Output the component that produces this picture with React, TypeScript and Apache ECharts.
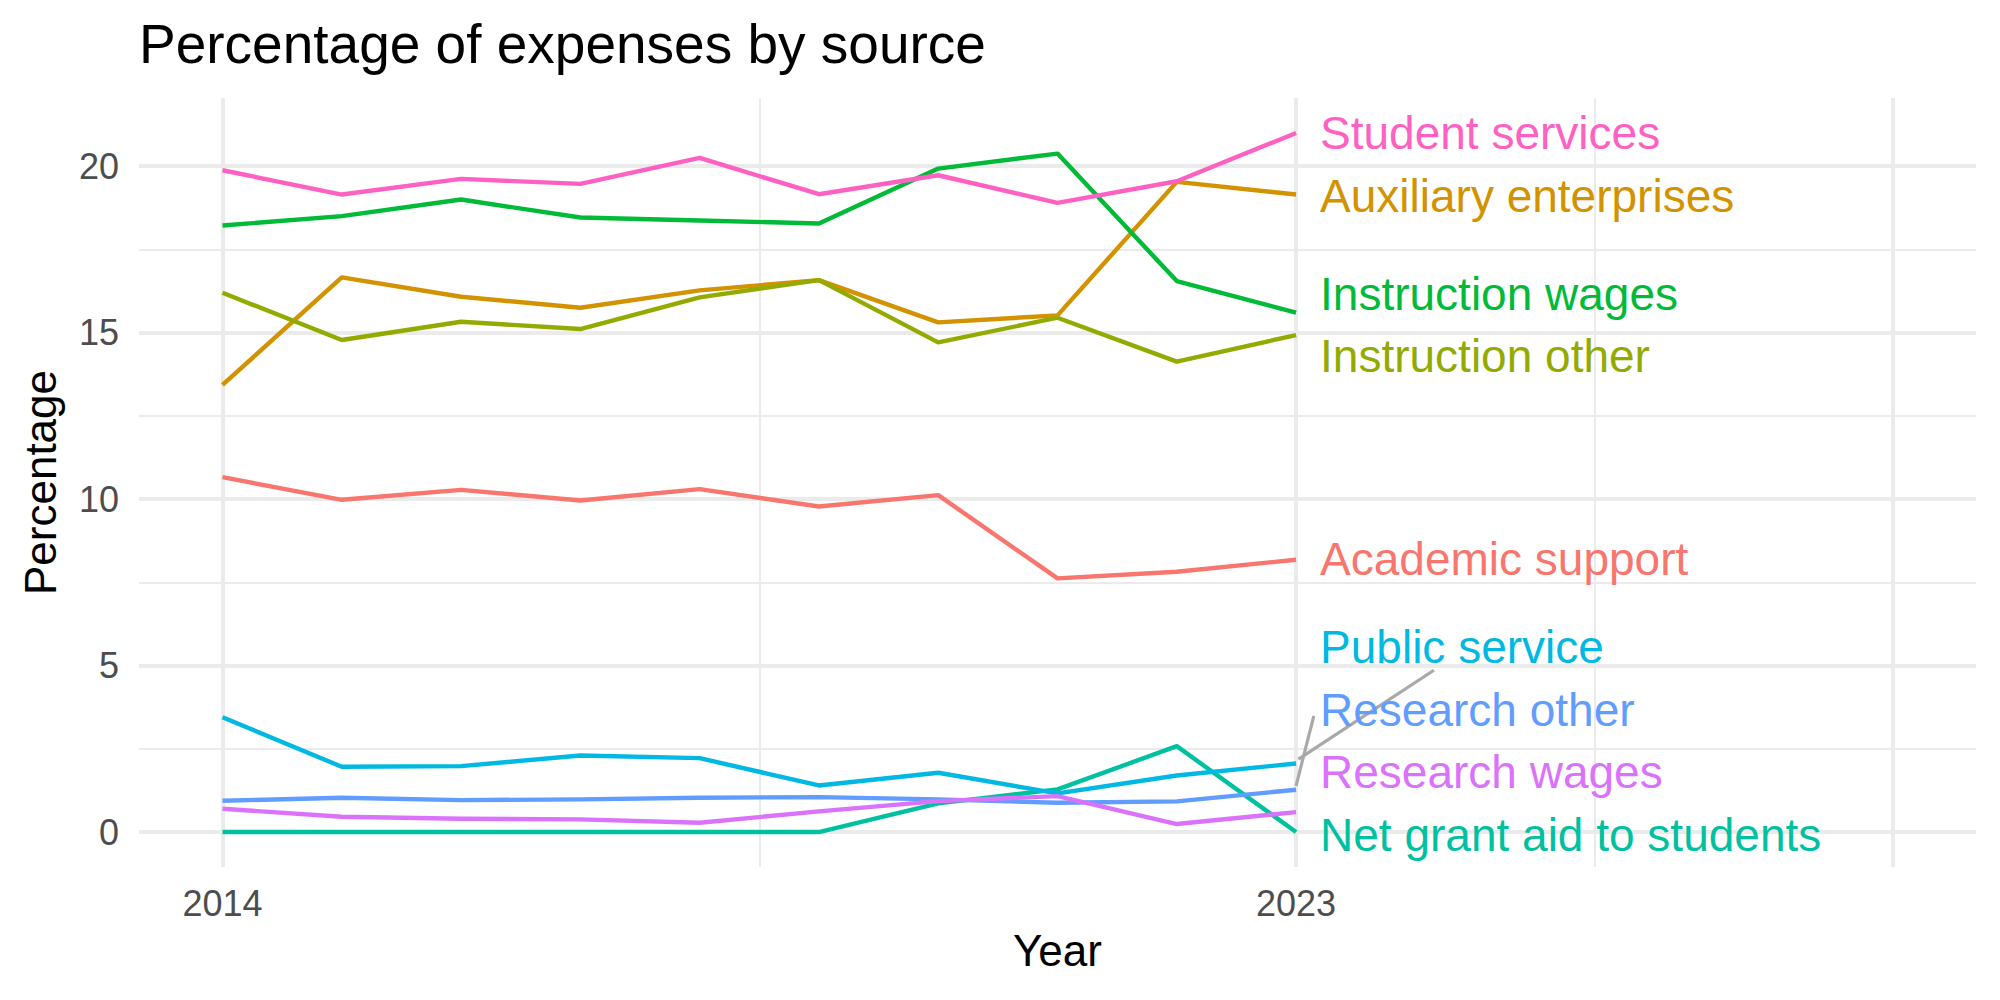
import React, { useEffect, useRef } from "react";
import * as echarts from "echarts";

const years = [2014, 2015, 2016, 2017, 2018, 2019, 2020, 2021, 2022, 2023];

const academicSupport = [10.66, 9.98, 10.28, 9.96, 10.3, 9.78, 10.12, 7.62, 7.82, 8.18];
const auxiliaryEnterprises = [13.43, 16.66, 16.08, 15.75, 16.27, 16.58, 15.31, 15.52, 19.53, 19.15];
const instructionOther = [16.2, 14.78, 15.33, 15.11, 16.06, 16.58, 14.71, 15.45, 14.13, 14.93];
const instructionWages = [18.22, 18.5, 19.0, 18.46, 18.37, 18.28, 19.93, 20.38, 16.55, 15.6];
const netGrantAid = [0, 0, 0, 0, 0, 0, 0.86, 1.28, 2.58, 0];
const publicService = [3.45, 1.96, 1.98, 2.3, 2.22, 1.4, 1.78, 1.16, 1.7, 2.06];
const researchOther = [0.94, 1.03, 0.96, 0.98, 1.03, 1.05, 0.98, 0.88, 0.92, 1.27];
const researchWages = [0.7, 0.46, 0.4, 0.38, 0.28, 0.62, 0.93, 1.08, 0.24, 0.6];
const studentServices = [19.88, 19.15, 19.62, 19.47, 20.25, 19.16, 19.73, 18.9, 19.55, 21.0];

const seriesNames = [
  "Academic support",
  "Auxiliary enterprises",
  "Instruction other",
  "Instruction wages",
  "Net grant aid to students",
  "Public service",
  "Research other",
  "Research wages",
  "Student services",
];
const seriesColors = [
  "#F8766D",
  "#D39200",
  "#93AA00",
  "#00BA38",
  "#00C19F",
  "#00B9E3",
  "#619CFF",
  "#DB72FB",
  "#FF61C3",
];
const seriesValues = [
  academicSupport,
  auxiliaryEnterprises,
  instructionOther,
  instructionWages,
  netGrantAid,
  publicService,
  researchOther,
  researchWages,
  studentServices,
];

// repelled label positions (data units)
const labelX = 2023;
const labelY = [8.2, 19.1, 14.31, 16.16, -0.09, 5.56, 3.66, 1.8, 21.0];

// leader segments (data units)
const leaderPublicService = [
  [2023.02, 2.19],
  [2024.155, 4.86],
];
const leaderResearchOther = [
  [2023.0, 1.39],
  [2023.149, 3.49],
];

const yMajorTicks = [0, 5, 10, 15, 20];
const yMinorTicks = [2.5, 7.5, 12.5, 17.5];
const xMajorTicks = [2014, 2023, 2028];
const xMinorTicks = [2018.5, 2025.5];
const xTickLabels = [2014, 2023];

const FONT = "'Liberation Sans', Arial, Helvetica, sans-serif";

export default function App() {
  const ref = useRef<HTMLDivElement>(null);

  useEffect(() => {
    if (!ref.current) return;
    const chart = echarts.init(ref.current, undefined, { renderer: "svg" });

    const gridColor = "#EBEBEB";
    const markData: any[] = [];
    yMinorTicks.forEach((v) => markData.push({ yAxis: v, lineStyle: { width: 2, color: gridColor, type: "solid" } }));
    xMinorTicks.forEach((v) => markData.push({ xAxis: v, lineStyle: { width: 2, color: gridColor, type: "solid" } }));
    yMajorTicks.forEach((v) => markData.push({ yAxis: v, lineStyle: { width: 4, color: gridColor, type: "solid" } }));
    xMajorTicks.forEach((v) => markData.push({ xAxis: v, lineStyle: { width: 4, color: gridColor, type: "solid" } }));

    const series: any[] = [
      {
        type: "line",
        name: "grid",
        data: [[years[0], 0]],
        showSymbol: false,
        symbol: "none",
        lineStyle: { opacity: 0 },
        silent: true,
        z: 0,
        markLine: {
          silent: true,
          z: 0,
          symbol: ["none", "none"],
          label: { show: false },
          emphasis: { disabled: true },
          data: markData,
        },
      },
    ];

    seriesNames.forEach((name, i) => {
      series.push({
        type: "line",
        name,
        data: years.map((y, j) => [y, seriesValues[i][j]]),
        showSymbol: false,
        symbol: "none",
        lineStyle: { width: 4.4, color: seriesColors[i], cap: "butt", join: "round" },
        itemStyle: { color: seriesColors[i] },
        silent: true,
        z: 2,
      });
    });

    [leaderPublicService, leaderResearchOther].forEach((seg) => {
      series.push({
        type: "line",
        data: seg,
        showSymbol: false,
        symbol: "none",
        lineStyle: { width: 3.2, color: "#A9A9A9" },
        silent: true,
        z: 3,
      });
    });

    series.push({
      type: "scatter",
      symbolSize: 0,
      silent: true,
      z: 4,
      data: seriesNames.map((n, i) => ({
        name: n,
        value: [labelX, labelY[i]],
        label: { color: seriesColors[i] },
      })),
      label: {
        show: true,
        position: "right",
        distance: 24,
        formatter: "{b}",
        fontSize: 46,
        fontFamily: FONT,
        textBorderWidth: 0,
        opacity: 1,
      },
    });

    chart.setOption({
      animation: false,
      backgroundColor: "#ffffff",
      textStyle: { fontFamily: FONT },
      title: {
        text: "Percentage of expenses by source",
        left: 139,
        top: 16,
        padding: 0,
        textStyle: { fontSize: 55, fontWeight: "normal", color: "#000000", fontFamily: FONT },
      },
      grid: { left: 139, right: 24, top: 98, bottom: 133, containLabel: false },
      xAxis: {
        type: "value",
        min: 2013.3,
        max: 2028.7,
        name: "Year",
        nameLocation: "middle",
        nameGap: 61,
        nameTextStyle: { fontSize: 44, color: "#000000", fontFamily: FONT },
        axisLine: { show: false },
        axisTick: { show: false },
        splitLine: { show: false },
        axisLabel: {
          customValues: xTickLabels,
          formatter: (v: number) => String(v),
          fontSize: 36,
          color: "#4D4D4D",
          margin: 18,
          fontFamily: FONT,
        },
      },
      yAxis: {
        type: "value",
        min: -1.05,
        max: 22.05,
        name: "Percentage",
        nameLocation: "middle",
        nameRotate: 90,
        nameGap: 77,
        nameTextStyle: { fontSize: 44, color: "#000000", fontFamily: FONT },
        axisLine: { show: false },
        axisTick: { show: false },
        splitLine: { show: false },
        axisLabel: {
          customValues: yMajorTicks,
          formatter: (v: number) => String(v),
          fontSize: 36,
          color: "#4D4D4D",
          margin: 20,
          fontFamily: FONT,
        },
      },
      series,
    });

    return () => chart.dispose();
  }, []);

  return (
    <div
      ref={ref}
      style={{ position: "fixed", left: 0, top: 0, width: 2000, height: 1000, background: "#fff" }}
    />
  );
}
